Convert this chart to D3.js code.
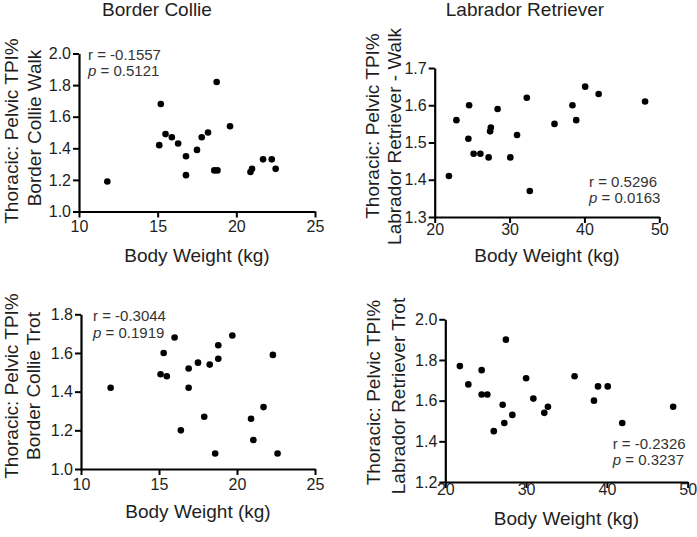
<!DOCTYPE html>
<html>
<head>
<meta charset="utf-8">
<script src="https://cdn.jsdelivr.net/npm/d3@7"></script>
<style>
  html, body { margin: 0; padding: 0; background: #fff; }
  svg { display: block; font-family: "Liberation Sans", Arial, Helvetica, sans-serif; }
</style>
</head>
<body>
<svg id="chart" width="697" height="537"></svg>
<script>
// ---------- DATA ----------
const panelTitles = ["Border Collie", "Labrador Retriever"];
const xAxisTitle = "Body Weight (kg)";

// Border Collie – Walk
const bcWalkWeight = [11.8, 15.2, 15.1, 15.5, 15.9, 16.3, 16.8, 16.8, 17.5, 17.8, 18.2, 18.75, 18.6, 18.8, 19.6, 20.9, 21.0, 21.7, 22.25, 22.5];
const bcWalkTPI    = [1.19, 1.68, 1.42, 1.49, 1.47, 1.43, 1.35, 1.23, 1.39, 1.47, 1.50, 1.82, 1.26, 1.26, 1.54, 1.25, 1.27, 1.33, 1.33, 1.27];

// Labrador Retriever – Walk
const labWalkWeight = [21.9, 22.9, 24.6, 24.5, 25.2, 26.1, 27.2, 27.5, 27.4, 28.4, 30.1, 31.0, 32.3, 32.7, 36.0, 38.4, 38.9, 40.1, 41.9, 48.1];
const labWalkTPI    = [1.41, 1.56, 1.60, 1.51, 1.47, 1.47, 1.46, 1.54, 1.53, 1.59, 1.46, 1.52, 1.62, 1.37, 1.55, 1.60, 1.56, 1.65, 1.63, 1.61];

// Border Collie – Trot
const bcTrotWeight = [11.9, 16.0, 15.3, 15.1, 15.5, 16.9, 16.9, 17.5, 18.25, 18.8, 18.8, 19.7, 22.3, 17.9, 16.4, 18.6, 20.9, 21.7, 21.05, 22.6];
const bcTrotTPI    = [1.42, 1.68, 1.60, 1.49, 1.48, 1.52, 1.42, 1.55, 1.54, 1.57, 1.64, 1.69, 1.59, 1.27, 1.20, 1.08, 1.26, 1.32, 1.15, 1.08];

// Labrador Retriever – Trot
const labTrotWeight = [21.8, 22.85, 24.5, 24.5, 25.2, 27.5, 26.0, 27.1, 27.3, 28.3, 30.0, 30.9, 32.25, 32.7, 36.0, 38.4, 38.9, 40.1, 41.9, 48.2];
const labTrotTPI    = [1.77, 1.68, 1.75, 1.63, 1.63, 1.90, 1.45, 1.58, 1.49, 1.53, 1.71, 1.61, 1.54, 1.57, 1.72, 1.60, 1.67, 1.67, 1.49, 1.57];

// Tick values
const bcXTicks  = [10, 15, 20, 25];
const labXTicks = [20, 30, 40, 50];
const bcWalkYTicks  = [1.0, 1.2, 1.4, 1.6, 1.8, 2.0];
const labWalkYTicks = [1.3, 1.4, 1.5, 1.6, 1.7];
const bcTrotYTicks  = [1.0, 1.2, 1.4, 1.6, 1.8];
const labTrotYTicks = [1.2, 1.4, 1.6, 1.8, 2.0];

// Y axis titles (two lines)
const bcWalkYTitle  = ["Thoracic: Pelvic TPI%", "Border Collie Walk"];
const labWalkYTitle = ["Thoracic: Pelvic TPI%", "Labrador Retriever - Walk"];
const bcTrotYTitle  = ["Thoracic: Pelvic TPI%", "Border Collie Trot"];
const labTrotYTitle = ["Thoracic: Pelvic TPI%", "Labrador Retriever Trot"];

// Correlation statistics
const bcWalkStats  = ["-0.1557", "0.5121"];
const labWalkStats = ["0.5296", "0.0163"];
const bcTrotStats  = ["-0.3044", "0.1919"];
const labTrotStats = ["-0.2326", "0.3237"];

// ---------- LAYOUT ----------
const panels = [
  { xs: bcWalkWeight, ys: bcWalkTPI, xTicks: bcXTicks, yTicks: bcWalkYTicks, yTitle: bcWalkYTitle, stats: bcWalkStats,
    xr: [79, 315], yr: [211.5, 53.5], yl: [{x: 17.5, y: 131}, {x: 41, y: 128}],
    xtY: 262, tickLabY: 232, statX: 88, statY: [60, 76] },
  { xs: labWalkWeight, ys: labWalkTPI, xTicks: labXTicks, yTicks: labWalkYTicks, yTitle: labWalkYTitle, stats: labWalkStats,
    xr: [434.7, 659.3], yr: [217, 68], yl: [{x: 379, y: 126}, {x: 400.5, y: 136.5}],
    xtY: 262, tickLabY: 235, statX: 589, statY: [186.5, 202.5] },
  { xs: bcTrotWeight, ys: bcTrotTPI, xTicks: bcXTicks, yTicks: bcTrotYTicks, yTitle: bcTrotYTitle, stats: bcTrotStats,
    xr: [81, 315], yr: [469, 314.3], yl: [{x: 17.5, y: 386}, {x: 39.5, y: 386}],
    xtY: 518, tickLabY: 490, statX: 93, statY: [321, 337.5] },
  { xs: labTrotWeight, ys: labTrotTPI, xTicks: labXTicks, yTicks: labTrotYTicks, yTitle: labTrotYTitle, stats: labTrotStats,
    xr: [445.3, 687.7], yr: [482, 319.3], yl: [{x: 380, y: 392.5}, {x: 405, y: 396}],
    xtY: 525, tickLabY: 495, statX: 612.7, statY: [449, 465] }
];

const svg = d3.select("#chart");
const textColor = "#1e1e1e";

// Panel titles
svg.append("text").attr("x", 157).attr("y", 16).attr("text-anchor", "middle")
  .attr("font-size", 19).attr("fill", textColor).text(panelTitles[0]);
svg.append("text").attr("x", 525).attr("y", 16).attr("text-anchor", "middle")
  .attr("font-size", 19).attr("fill", textColor).text(panelTitles[1]);

panels.forEach(p => {
  const xDom = d3.extent(p.xTicks);
  const yDom = d3.extent(p.yTicks);
  const x = d3.scaleLinear().domain(xDom).range(p.xr);
  const y = d3.scaleLinear().domain(yDom).range(p.yr);
  const g = svg.append("g");

  // Y axis
  const yAxis = d3.axisLeft(y).tickValues(p.yTicks).tickFormat(d3.format(".1f"))
    .tickSize(6).tickSizeOuter(0).tickPadding(2);
  const ya = g.append("g").attr("transform", `translate(${p.xr[0]},0)`).call(yAxis);
  ya.select(".domain").attr("stroke", "#000").attr("stroke-width", 2.2);
  ya.selectAll(".tick line").attr("stroke", "#000").attr("stroke-width", 2);
  ya.selectAll(".tick text").attr("font-size", 16).attr("fill", textColor)
    .attr("font-family", "Liberation Sans, Arial, sans-serif");

  // X axis
  const xAxis = d3.axisBottom(x).tickValues(p.xTicks).tickFormat(d3.format("d"))
    .tickSize(6).tickSizeOuter(0);
  const xa = g.append("g").attr("transform", `translate(0,${p.yr[0]})`).call(xAxis);
  xa.select(".domain").attr("stroke", "#000").attr("stroke-width", 2.2);
  xa.selectAll(".tick line").attr("stroke", "#000").attr("stroke-width", 2);
  xa.selectAll(".tick text").attr("font-size", 16).attr("fill", textColor)
    .attr("font-family", "Liberation Sans, Arial, sans-serif")
    .attr("dy", null).attr("y", p.tickLabY - p.yr[0]);

  // X title
  g.append("text").attr("x", (p.xr[0] + p.xr[1]) / 2).attr("y", p.xtY)
    .attr("text-anchor", "middle").attr("font-size", 19).attr("fill", textColor).text(xAxisTitle);

  // Y title
  p.yTitle.forEach((t, i) => {
    g.append("text").attr("transform", `translate(${p.yl[i].x},${p.yl[i].y}) rotate(-90)`)
      .attr("text-anchor", "middle").attr("font-size", 19).attr("fill", textColor).text(t);
  });

  // Points
  g.selectAll("circle.pt").data(p.xs.map((v, i) => [v, p.ys[i]])).enter()
    .append("circle").attr("class", "pt")
    .attr("cx", d => x(d[0])).attr("cy", d => y(d[1])).attr("r", 3.3).attr("fill", "#000");

  // Stats annotation
  const s1 = g.append("text").attr("x", p.statX).attr("y", p.statY[0])
    .attr("font-size", 15).attr("fill", "#333");
  s1.text("r = " + p.stats[0]);
  const s2 = g.append("text").attr("x", p.statX).attr("y", p.statY[1])
    .attr("font-size", 15).attr("fill", "#333");
  s2.append("tspan").attr("font-style", "italic").text("p");
  s2.append("tspan").text(" = " + p.stats[1]);
});
</script>
</body>
</html>
